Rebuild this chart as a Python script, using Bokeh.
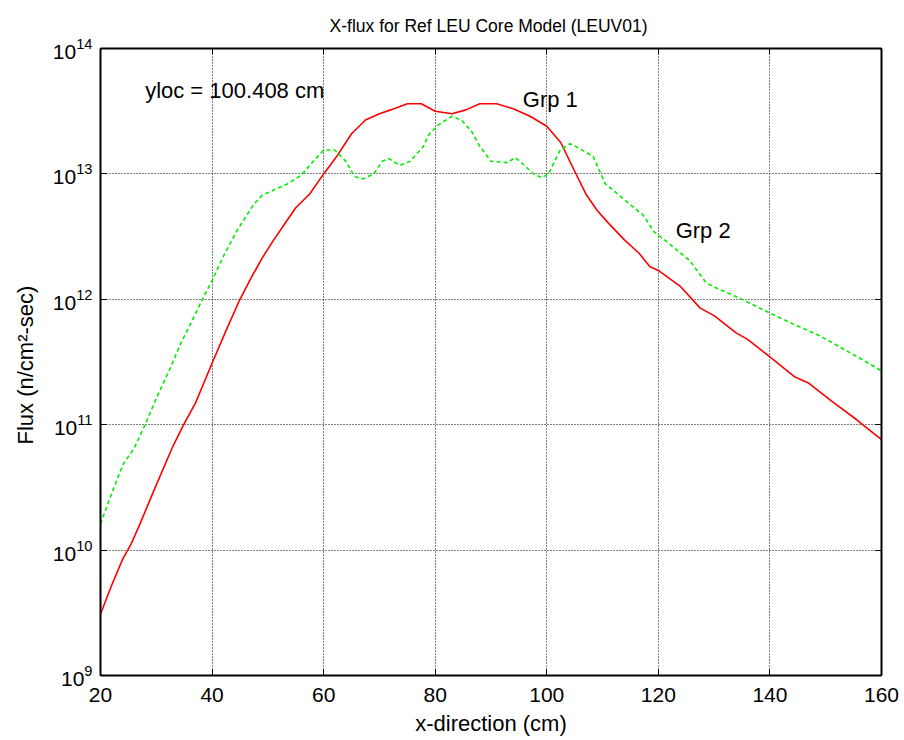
from bokeh.plotting import figure
from bokeh.models import (LinearAxis, LogAxis, FixedTicker, LogTicker, Range1d,
                          Label, Title)
from bokeh.embed import file_html
from bokeh.resources import INLINE

# ---- data -----------------------------------------------------------------
grp1_x = [20, 22, 24, 25.5, 27, 30, 33, 35, 37, 40, 42.5, 45, 47, 49, 51, 53, 55,
          57.5, 60, 62.5, 65, 67.5, 70, 72, 75, 77.5, 80, 83, 85.5, 88, 91, 94,
          97, 100, 102.5, 105, 107, 109, 111, 114, 116.5, 118.5, 120, 124, 127.5,
          130, 134, 136, 140, 144.5, 147, 151, 155.5, 160]
grp1_flux = [3.09e9, 5.25e9, 8.51e9, 1.12e10, 1.59e10, 3.31e10, 6.76e10, 1.02e11,
             1.48e11, 3.09e11, 5.62e11, 1.00e12, 1.48e12, 2.14e12, 2.95e12, 3.98e12,
             5.37e12, 6.92e12, 1.00e13, 1.41e13, 2.09e13, 2.69e13, 3.02e13, 3.24e13,
             3.63e13, 3.63e13, 3.16e13, 3.02e13, 3.24e13, 3.63e13, 3.63e13, 3.31e13,
             2.88e13, 2.40e13, 1.78e13, 1.05e13, 6.92e12, 5.13e12, 4.07e12, 2.95e12,
             2.34e12, 1.82e12, 1.70e12, 1.26e12, 8.51e11, 7.41e11, 5.37e11, 4.79e11,
             3.47e11, 2.40e11, 2.14e11, 1.55e11, 1.10e11, 7.59e10]

grp2_x = [20, 22, 24, 26, 28, 30, 32.5, 34.5, 36, 38.5, 40, 42, 44.5, 47.5, 49,
          51.5, 53.5, 56, 57.5, 60, 62, 64, 65.5, 67, 69, 70.5, 71.7, 73.7, 75.5,
          77.9, 78.8, 80.5, 83, 84.7, 86.5, 88, 90, 93, 94.3, 95.2, 97.6, 99.1,
          100.3, 102.4, 104.2, 106, 108.3, 110.5, 114.3, 117.3, 119.2, 121.5,
          125.6, 128.6, 130.4, 134.6, 140, 145.3, 148.9, 151.3, 156.1, 160]
grp2_flux = [1.62e10, 2.82e10, 4.79e10, 6.46e10, 1.00e11, 1.62e11, 2.82e11, 4.57e11,
             6.17e11, 1.05e12, 1.41e12, 2.19e12, 3.55e12, 5.75e12, 6.76e12, 7.59e12,
             8.32e12, 9.77e12, 1.17e13, 1.55e13, 1.55e13, 1.26e13, 9.55e12, 9.12e12,
             1.00e13, 1.26e13, 1.32e13, 1.17e13, 1.26e13, 1.66e13, 2.04e13, 2.45e13,
             2.88e13, 2.69e13, 2.19e13, 1.66e13, 1.26e13, 1.23e13, 1.35e13, 1.26e13,
             1.00e13, 9.33e12, 1.00e13, 1.55e13, 1.74e13, 1.58e13, 1.38e13, 8.32e12,
             6.03e12, 4.68e12, 3.47e12, 2.88e12, 2.04e12, 1.35e12, 1.23e12, 1.02e12,
             7.76e11, 6.03e11, 5.13e11, 4.47e11, 3.39e11, 2.69e11]

x_ticks = [20, 40, 60, 80, 100, 120, 140, 160]

title_text = "X-flux for  Ref LEU Core Model (LEUV01)"
x_label = "x-direction (cm)"
y_label = "Flux  (n/cm\u00b2-sec)"

note_text, note_x, note_y = "yloc = 100.408 cm", 28.0, 4.6e13
grp1_text, grp1_lx, grp1_ly = "Grp 1", 95.7, 3.9e13
grp2_text, grp2_lx, grp2_ly = "Grp 2", 123.1, 3.55e12

FONT = "Liberation Sans"

# ---- figure ---------------------------------------------------------------
p = figure(width=904, height=740, y_axis_type="log",
           x_range=Range1d(20, 160), y_range=Range1d(1e9, 1e14),
           output_backend="svg", toolbar_location=None,
           min_border_left=100, min_border_right=23,
           min_border_top=48, min_border_bottom=65)

p.title = Title(text=title_text, align="center", text_font=FONT,
                text_font_size="17.5px", text_font_style="normal",
                text_color="black", standoff=25)

p.line(grp1_x, grp1_flux, line_color="#ff0000", line_width=1.6)
p.line(grp2_x, grp2_flux, line_color="#00ee00", line_width=1.6, line_dash="4 3")

for txt, lx, ly in [(note_text, note_x, note_y), (grp1_text, grp1_lx, grp1_ly),
                    (grp2_text, grp2_lx, grp2_ly)]:
    p.add_layout(Label(x=lx, y=ly, text=txt, text_font=FONT, text_font_size="22px",
                       text_baseline="middle", text_align="left", text_color="black"))

p.xaxis.ticker = FixedTicker(ticks=x_ticks)
p.yaxis.ticker = LogTicker(num_minor_ticks=0)

for ax in [p.xaxis[0], p.yaxis[0]]:
    ax.major_tick_in = 6
    ax.major_tick_out = 0
    ax.minor_tick_line_color = None
    ax.axis_line_width = 2
    ax.axis_line_color = "black"
    ax.major_tick_line_color = "black"
    ax.major_label_text_font = FONT
    ax.major_label_text_font_size = "21px"
    ax.major_label_text_color = "black"
    ax.axis_label_text_font = FONT
    ax.axis_label_text_font_size = "22px"
    ax.axis_label_text_font_style = "normal"
    ax.axis_label_text_color = "black"

p.xaxis.axis_label = x_label
p.yaxis.axis_label = y_label
p.xaxis.major_label_standoff = 12
p.yaxis.major_label_standoff = 8
p.xaxis.axis_label_standoff = 6
p.yaxis.axis_label_standoff = 12

top_ax = LinearAxis(ticker=FixedTicker(ticks=x_ticks))
right_ax = LogAxis(ticker=LogTicker(num_minor_ticks=0))
for ax in [top_ax, right_ax]:
    ax.major_tick_in = 6
    ax.major_tick_out = 0
    ax.minor_tick_line_color = None
    ax.axis_line_width = 2
    ax.axis_line_color = "black"
    ax.major_tick_line_color = "black"
    ax.major_label_text_font_size = "1px"
    ax.major_label_text_color = None
    ax.major_label_standoff = 0
p.add_layout(top_ax, "above")
p.add_layout(right_ax, "right")

p.grid.grid_line_color = "black"
p.grid.grid_line_dash = "1 2"
p.grid.grid_line_width = 1
p.outline_line_color = "black"
p.outline_line_width = 1

p.background_fill_color = "white"
p.border_fill_color = "white"

open("out.html", "w").write(file_html(p, INLINE))
